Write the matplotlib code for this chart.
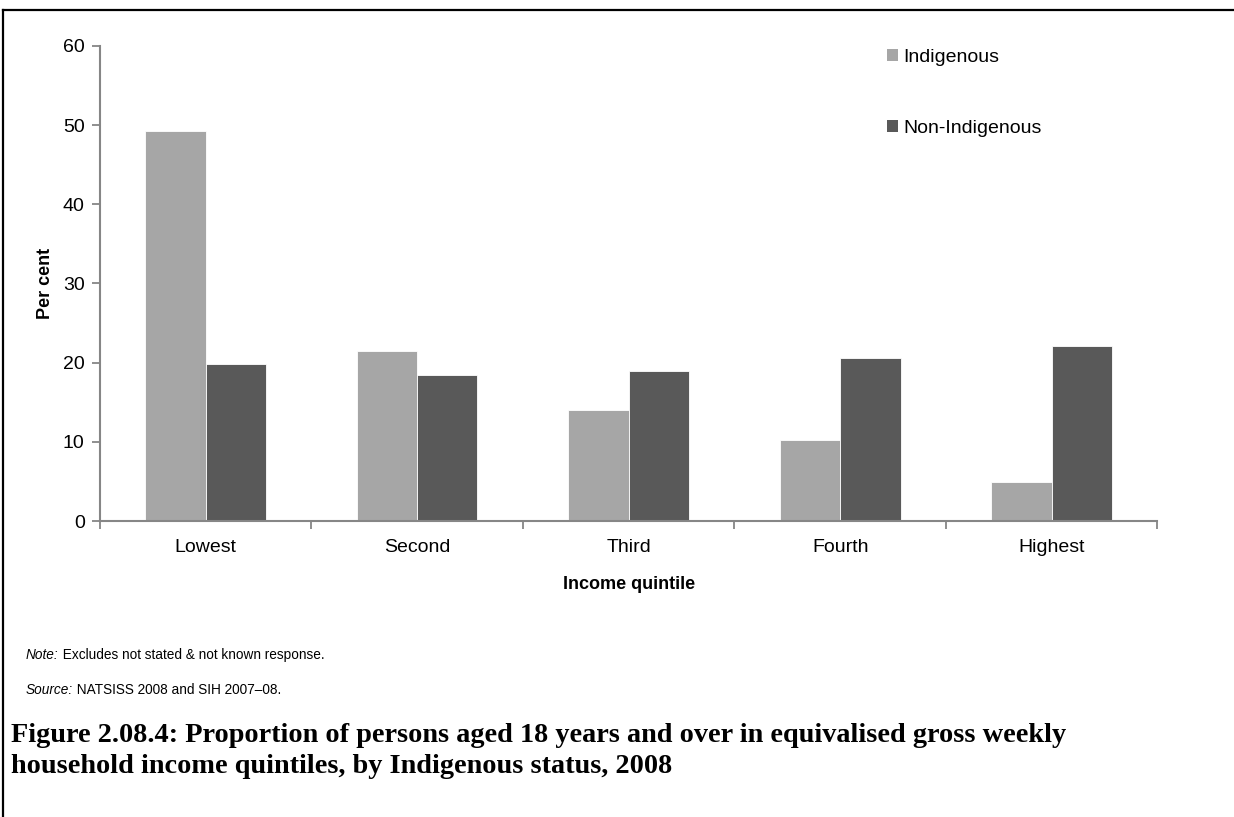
import matplotlib
matplotlib.use('Agg')
import matplotlib.pyplot as plt
from matplotlib.patches import Patch
from matplotlib.lines import Line2D
import numpy as np

plt.rcParams['font.family'] = ['Liberation Sans', 'DejaVu Sans']

# values
quintiles = ['Lowest', 'Second', 'Third', 'Fourth', 'Highest']
indigenous = [49.3, 21.5, 14.1, 10.3, 4.9]
non_indigenous = [19.8, 18.4, 18.9, 20.6, 22.1]
series_names = ['Indigenous', 'Non-Indigenous']

light = '#a6a6a6'
dark = '#595959'
axis_grey = '#868686'

fig = plt.figure(figsize=(12.34, 8.17), dpi=100)
ax = fig.add_axes([0.081, 0.362, 0.857, 0.582])

x = np.arange(len(quintiles))
w = 0.285
ax.bar(x - w / 2, indigenous, w, color=light, edgecolor='white', linewidth=0.6)
ax.bar(x + w / 2, non_indigenous, w, color=dark, edgecolor='white', linewidth=0.6)

ax.set_xlim(-0.5, len(quintiles) - 0.5)
ax.set_ylim(0, 60)
ax.set_yticks(np.arange(0, 61, 10))

# category labels at centres, tick marks at the boundaries
ax.set_xticks(x)
ax.set_xticklabels(quintiles, fontsize=14)
ax.set_xticks(np.arange(-0.5, len(quintiles)), minor=True)
ax.tick_params(axis='x', which='major', length=0, pad=13)
ax.tick_params(axis='x', which='minor', length=6, width=1.3, color=axis_grey, direction='out')
ax.tick_params(axis='y', length=6, width=1.3, color=axis_grey, direction='out', labelsize=14, pad=5)

for s in ['top', 'right']:
    ax.spines[s].set_visible(False)
for s in ['left', 'bottom']:
    ax.spines[s].set_color(axis_grey)
    ax.spines[s].set_linewidth(1.5)

ax.set_ylabel('Per cent', fontsize=13, fontweight='bold', labelpad=6)
ax.set_xlabel('Income quintile', fontsize=13, fontweight='bold', labelpad=14)

handles = [Patch(facecolor=light), Patch(facecolor=dark)]
ax.legend(handles, series_names, loc='upper left', bbox_to_anchor=(0.737, 1.01),
          frameon=False, fontsize=14, handlelength=0.55, handleheight=0.55,
          handletextpad=0.3, labelspacing=2.8, borderaxespad=0)

# notes: italic lead word followed by regular text
fig.canvas.draw()
renderer = fig.canvas.get_renderer()
for y, lead, rest in [(0.198, 'Note:', ' Excludes not stated & not known response.'),
                      (0.155, 'Source:', ' NATSISS 2008 and SIH 2007–08.')]:
    t = fig.text(0.021, y, lead, fontsize=9.8, style='italic', va='center')
    bb = t.get_window_extent(renderer)
    fig.text(bb.x1 / fig.bbox.width, y, rest, fontsize=9.8, va='center')

fig.text(0.009, 0.081,
         'Figure 2.08.4: Proportion of persons aged 18 years and over in equivalised gross weekly\n'
         'household income quintiles, by Indigenous status, 2008',
         fontsize=20.3, fontweight='bold', family=['Liberation Serif'], va='center',
         linespacing=1.3)

# page frame: top and left edges
fig.add_artist(Line2D([0.0025, 1.0], [0.9875, 0.9875], color='black', linewidth=1.6,
                      transform=fig.transFigure))
fig.add_artist(Line2D([0.0025, 0.0025], [0.0, 0.9875], color='black', linewidth=1.6,
                      transform=fig.transFigure))

fig.savefig('out.png', dpi=100)
